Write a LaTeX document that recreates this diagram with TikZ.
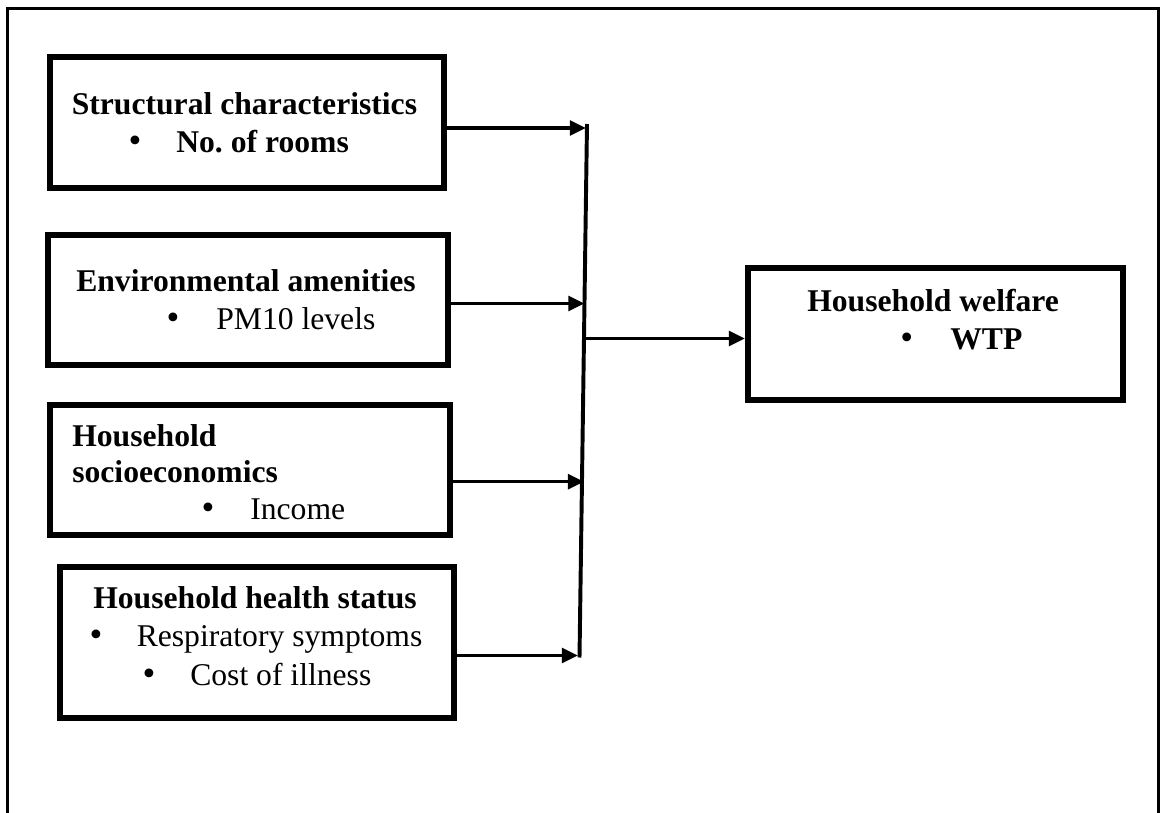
\documentclass[tikz,border=0pt]{standalone}
\usepackage{fontspec}
\setmainfont{Liberation Serif}
\usetikzlibrary{arrows.meta}
\frenchspacing

\tikzset{
  box/.style={draw, line width=4.3pt, inner sep=0pt, rectangle},
  txt/.style={inner sep=0pt, anchor=base west, font=\fontsize{22.5}{27}\selectfont},
  bold/.style={txt, font=\fontsize{22.5}{27}\selectfont\bfseries},
  dot/.style={inner sep=0pt, anchor=base, font=\fontsize{26}{27}\selectfont},
  link/.style={line width=2.5pt, -{Triangle[length=11.5pt,width=10.5pt]}},
}

\begin{document}
\begin{tikzpicture}[x=0.025cm, y=-0.025cm]
    \useasboundingbox (0,0) rectangle (1160,813);

    % Marco
    \draw[line width=2.2pt] (7.5,813) -- (7.5,8.5) -- (1158.5,8.5) -- (1158.5,813);

    % Cajas
    \node[box, minimum width=9.83cm, minimum height=3.28cm] (b1) at (247,122.5) {};
    \node[box, minimum width=10cm, minimum height=3.25cm] (b2) at (248,300) {};
    \node[box, minimum width=9.99cm, minimum height=3.26cm] (b3) at (249.75,470) {};
    \node[box, minimum width=9.84cm, minimum height=3.77cm] (b4) at (256.75,642.3) {};
    \node[box, minimum width=9.37cm, minimum height=3.31cm] (b5) at (935.4,334.2) {};

    % Textos
    \node[bold] (t1) at (71.5,115) {Structural characteristics};
    \node[dot] (d1) at (135,153) {\textbullet};
    \node[bold] (t1a) at (176,153) {No. of rooms};

    \node[bold] (t2) at (76,291.7) {Environmental amenities};
    \node[dot] (d2) at (173,330) {\textbullet};
    \node[txt] (t2a) at (216,330) {PM10 levels};

    \node[bold] (t3) at (72,446.7) {Household};
    \node[bold] (t3b) at (72,483) {socioeconomics};
    \node[dot] (d3) at (208,520) {\textbullet};
    \node[txt] (t3a) at (250,520) {Income};

    \node[bold] (t4) at (93,608) {Household health status};
    \node[dot] (d4) at (96,646.7) {\textbullet};
    \node[txt] (t4a) at (136.5,646.7) {Respiratory symptoms};
    \node[dot] (d4b) at (149,685) {\textbullet};
    \node[txt] (t4b) at (190,685) {Cost of illness};

    \node[bold] (t5) at (807,311.7) {Household welfare};
    \node[dot] (d5) at (906.7,350) {\textbullet};
    \node[bold] (t5a) at (950,350) {WTP};

    % Barra colectora
    \coordinate (top) at (587,124);
    \coordinate (bot) at (579.5,657.5);
    \draw[line width=2.8pt] (top) -- (bot);

    % Flechas hacia la barra
    \coordinate (p1) at (586,128);
    \coordinate (p2) at (584.5,303.5);
    \coordinate (p3) at (584,481.7);
    \coordinate (p4) at (578,655.5);
    \draw[link] (b1.east |- p1) -- (p1);
    \draw[link] (b2.east |- p2) -- (p2);
    \draw[link] (b3.east |- p3) -- (p3);
    \draw[link] (b4.east |- p4) -- (p4);

    % Flecha hacia el bienestar
    \coordinate (p0) at (584,338.5);
    \draw[link] (p0) -- (p0 -| b5.west);
\end{tikzpicture}
\end{document}
